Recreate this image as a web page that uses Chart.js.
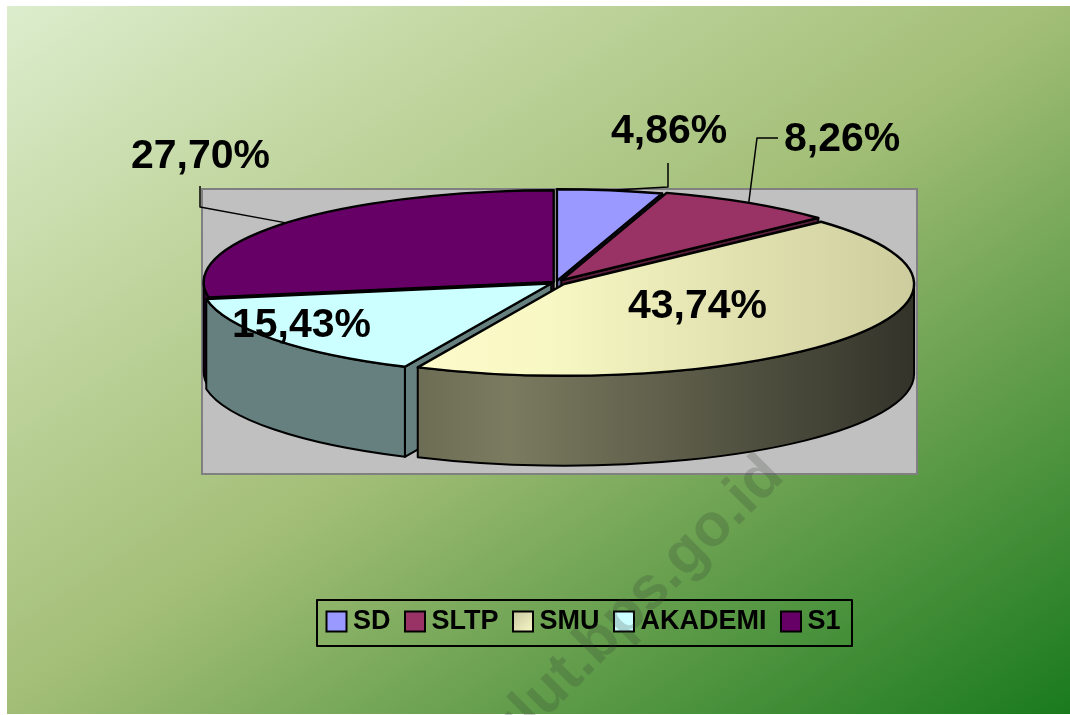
<!DOCTYPE html>
<html>
<head>
<meta charset="utf-8">
<style>
html,body{margin:0;padding:0;background:#fff;width:1070px;height:715px;overflow:hidden}
#bg{position:absolute;left:7px;top:6px;width:1063px;height:708px;
background:linear-gradient(to bottom right,#dcedcd 0%,#c4d8a4 22%,#a2be76 50%,#669f4e 72%,#1a7a1e 100%)}
canvas{position:absolute;left:0;top:0}
</style>
<script src="https://cdn.jsdelivr.net/npm/chart.js@4"></script>
</head>
<body>
<div id="bg"></div>
<canvas id="c" width="1070" height="715"></canvas>
<script>
const categories = ["SD","SLTP","SMU","AKADEMI","S1"];
const seriesValues = [4.86,8.26,43.74,15.43,27.70];
const valueLabels = ["4,86%","8,26%","43,74%","15,43%","27,70%"];
const topColors = ["#9999ff","#993366",null,"#ccffff","#660066"];
const wallColors = ["#5c5c99","#5c1f3d",null,"#668080","#330033"];
const explode = [6,10,10,6,3];
const labelPos = [[611,143],[784,151],[628,318],[232,337],[131,168]];
const leaders = [[[668,163],[668,187]],[[778,138],[757,138]],null,null,[[200,186],[200,207]]];
const watermark = "sulut.bps.go.id";

const CX=556, CY=282.5, KY=0.262, DEPTH=90;
const canvas=document.getElementById('c');
const g0=canvas.getContext('2d');
function hGrad(x0,x1,stops){const g=g0.createLinearGradient(x0,0,x1,0);stops.forEach(s=>g.addColorStop(s[0],s[1]));return g;}
const smuTop=hGrad(418,914,[[0,"#fbfac8"],[0.2,"#f8f8c4"],[1,"#c9c99b"]]);
const smuWall=hGrad(418,914,[[0,"#6d6d55"],[0.18,"#7b7b60"],[1,"#33332a"]]);
const smuSwatch=(()=>{const g=g0.createLinearGradient(515,611,535,632);g.addColorStop(0,"#c9c9a2");g.addColorStop(1,"#fbfac8");return g;})();
topColors[2]=smuTop; wallColors[2]=smuWall;

const pie3d={
  id:'pie3d',
  afterLayout(chart){
    const l=chart.legend; l.left=312; l.right=1060; l.top=586.5; l.bottom=648;
  },
  beforeDatasetsDraw(chart){
    const ctx=chart.ctx, meta=chart.getDatasetMeta(0), arcs=meta.data;
    // plot wall
    ctx.save();
    ctx.fillStyle="#c0c0c0";ctx.strokeStyle="#808080";ctx.lineWidth=2;
    ctx.fillRect(202,189,715,285);ctx.strokeRect(202,189,715,285);
    ctx.restore();
    const info=arcs.map((a,i)=>{
      const mid=(a.startAngle+a.endAngle)/2;
      return {a,i,dx:Math.cos(mid)*explode[i],dy:Math.sin(mid)*explode[i]};
    });
    const px=(o,ang,r)=>[CX+o.dx+Math.cos(ang)*r, CY+(o.dy+Math.sin(ang)*r)*KY];
    ctx.save();
    ctx.lineWidth=2;ctx.strokeStyle="#000";ctx.lineJoin="round";
    // walls, back to front
    [0,1,4,3,2].forEach(i=>{
      const o=info[i],a=o.a,r=a.outerRadius;
      ctx.fillStyle=wallColors[i];
      const apex=px(o,0,0);
      // only the cut faces that turn towards the viewer
      [[a.startAngle,Math.cos(a.startAngle)<-1e-6],[a.endAngle,Math.cos(a.endAngle)>1e-6]].forEach(f=>{
        if(!f[1])return;
        const p=px(o,f[0],r);
        ctx.beginPath();ctx.moveTo(apex[0],apex[1]);ctx.lineTo(p[0],p[1]);
        ctx.lineTo(p[0],p[1]+DEPTH);ctx.lineTo(apex[0],apex[1]+DEPTH);ctx.closePath();
        ctx.fill();ctx.stroke();
      });
      // the visible rim is the part of the slice that faces the viewer
      let s=a.startAngle,e=a.endAngle;
      const base=Math.floor(s/(Math.PI*2))*Math.PI*2;
      s-=base;e-=base;
      [[0,Math.PI],[Math.PI*2,Math.PI*3]].forEach(rg=>{
        const s1=Math.max(s,rg[0]),e1=Math.min(e,rg[1]);
        if(e1<=s1)return;
        const cxx=CX+o.dx,cyy=CY+o.dy*KY;
        ctx.beginPath();
        ctx.ellipse(cxx,cyy,r,r*KY,0,s1,e1);
        ctx.ellipse(cxx,cyy+DEPTH,r,r*KY,0,e1,s1,true);
        ctx.closePath();ctx.fill();ctx.stroke();
      });
    });
    ctx.restore();
    // top faces: the library's own arc elements under an elliptical transform
    info.forEach(o=>{
      ctx.save();
      ctx.translate(CX+o.dx,CY+o.dy*KY);
      ctx.scale(1,KY);
      ctx.translate(-o.a.x,-o.a.y);
      o.a.draw(ctx);
      ctx.restore();
      // outline drawn at full pen width
      ctx.save();
      ctx.translate(CX+o.dx,CY+o.dy*KY);
      ctx.scale(1,KY);
      ctx.beginPath();ctx.moveTo(0,0);
      ctx.arc(0,0,o.a.outerRadius,o.a.startAngle,o.a.endAngle);ctx.closePath();
      ctx.restore();
      ctx.lineWidth=2.4;ctx.strokeStyle="#000";ctx.lineJoin="round";ctx.stroke();
    });
    chart.$info=info;
    return false;
  },
  afterDraw(chart){
    const ctx=chart.ctx,info=chart.$info;
    // legend frame
    ctx.save();ctx.strokeStyle="#000";ctx.lineWidth=2;ctx.strokeRect(317,600,535,46);ctx.restore();
    // leader lines from each slice's mid-angle to its label
    ctx.save();ctx.strokeStyle="#000";ctx.lineWidth=1.5;
    leaders.forEach((pts,i)=>{
      if(!pts)return;
      const o=info[i],a=o.a,mid=(a.startAngle+a.endAngle)/2;
      const ax=CX+o.dx+Math.cos(mid)*a.outerRadius, ay=CY+(o.dy+Math.sin(mid)*a.outerRadius)*KY;
      ctx.beginPath();ctx.moveTo(pts[0][0],pts[0][1]);ctx.lineTo(pts[1][0],pts[1][1]);ctx.lineTo(ax,ay);ctx.stroke();
    });
    ctx.restore();
    // value labels
    ctx.save();ctx.fillStyle="#000";ctx.font="bold 41px 'Liberation Sans'";ctx.textAlign="left";ctx.textBaseline="alphabetic";
    valueLabels.forEach((t,i)=>ctx.fillText(t,labelPos[i][0],labelPos[i][1]));
    ctx.restore();
    // watermark
    ctx.save();ctx.translate(786,478);ctx.rotate(-Math.PI/4);
    ctx.fillStyle="rgba(50,60,50,0.22)";ctx.font="bold 60px 'Liberation Sans'";ctx.textAlign="right";ctx.textBaseline="alphabetic";
    ctx.fillText(watermark,0,0);ctx.restore();
  }
};

new Chart(canvas,{
  type:'pie',
  plugins:[pie3d],
  data:{labels:categories,datasets:[{data:seriesValues,backgroundColor:topColors,borderWidth:0}]},
  options:{
    responsive:false,animation:false,radius:350,
    events:[],
    plugins:{
      tooltip:{enabled:false},
      legend:{
        display:true,position:'bottom',align:'start',
        labels:{
          usePointStyle:true,pointStyle:'rect',boxWidth:6,boxHeight:20,padding:21.5,
          color:"#000",font:{family:"'Liberation Sans'",weight:'bold',size:27},
          generateLabels(chart){
            return categories.map((c,i)=>({text:c,fillStyle:i===2?smuSwatch:topColors[i],strokeStyle:"#000",lineWidth:2,pointStyle:'rect',hidden:false,index:i,fontColor:"#000"}));
          }
        }
      }
    }
  }
});
</script>
</body>
</html>
